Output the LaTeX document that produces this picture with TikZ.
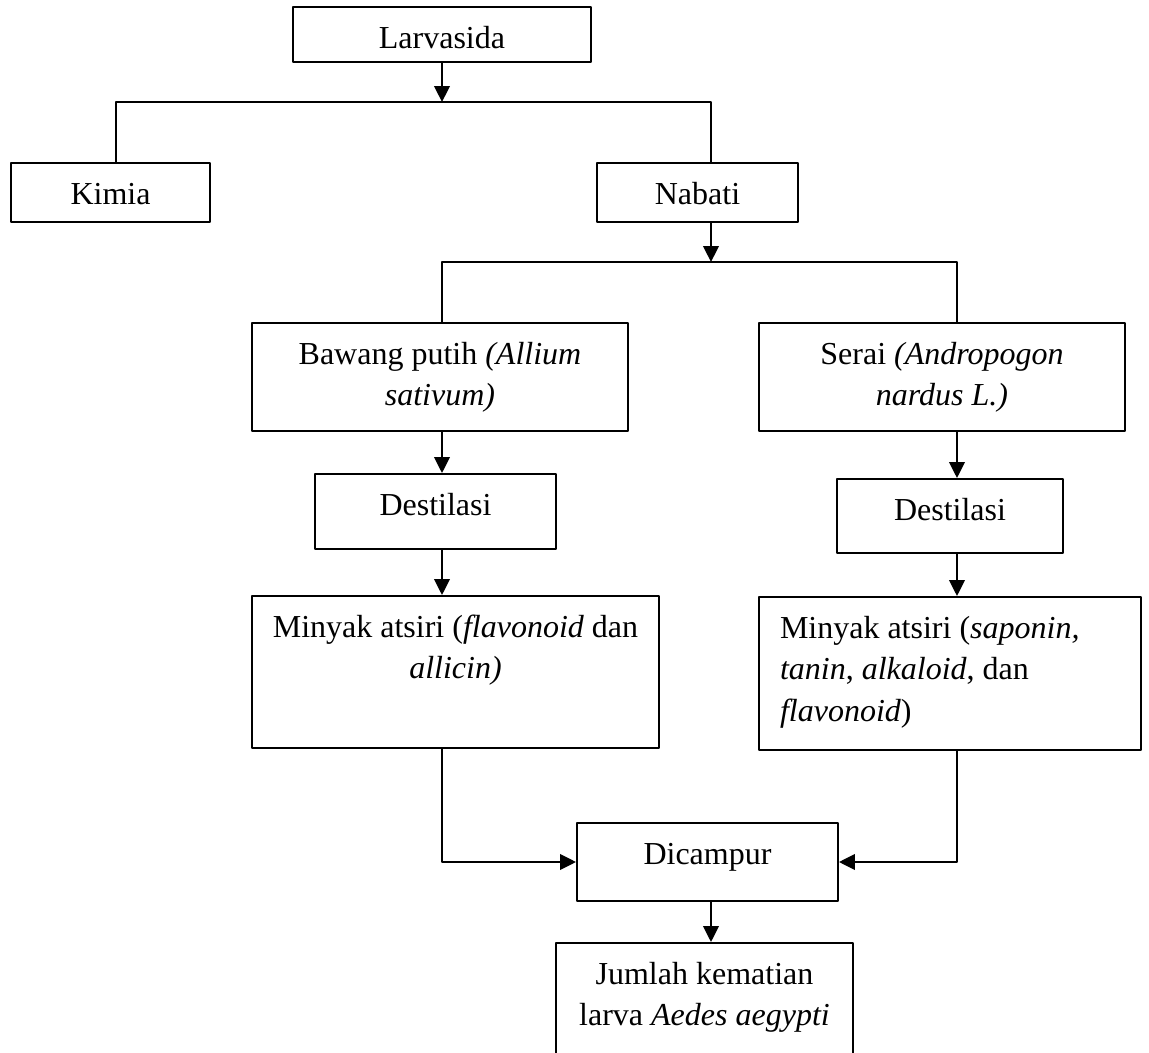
\documentclass[tikz,border=0pt]{standalone}
\usepackage{fontspec}
\setmainfont{Liberation Serif}
\usetikzlibrary{arrows.meta}

\newdimen\pxu \pxu=0.375pt
\newcommand{\boxtext}[4][\centering]{\parbox[c][#3\pxu][t]{#2\pxu}{#1\rule{0pt}{15.4pt}#4}}

\tikzset{
	kotak/.style={draw,line width=0.7pt,inner sep=0pt,font=\fontsize{12pt}{15.56pt}\selectfont},
	garis/.style={line width=0.7pt},
	panah/.style={->,line width=0.95pt}
}

\begin{document}
\begin{tikzpicture}[line cap=round,line join=round,>={Triangle[length=6pt,width=5.8pt]},x=0.375pt,y=-0.375pt]%alur larvasida
	\clip (0,0) rectangle (1149,1053);
	\node[kotak] (lar) at (442,34.5) {\boxtext{298}{55}{Larvasida}};
	\node[kotak] (kim) at (110.5,192.5) {\boxtext{199}{59}{Kimia}};
	\node[kotak] (nab) at (697.5,192.5) {\boxtext{201}{59}{Nabati}};
	\node[kotak] (baw) at (440,377) {\boxtext{376}{108}{Bawang putih \textit{(Allium}\\ \textit{sativum)}}};
	\node[kotak] (ser) at (942,377) {\boxtext{366}{108}{Serai \textit{(Andropogon}\\ \textit{nardus L.)}}};
	\node[kotak] (desL) at (435.5,511.5) {\boxtext{241}{75}{Destilasi}};
	\node[kotak] (desR) at (950,516) {\boxtext{226}{74}{Destilasi}};
	\node[kotak] (minL) at (455.5,672) {\boxtext{407}{152}{Minyak atsiri (\textit{flavonoid} dan\\ \textit{allicin)}}};
	\node[kotak] (minR) at (950,673.5) {\boxtext[\raggedright\leftskip=21\pxu]{382}{153}{Minyak atsiri (\textit{saponin,}\\ \textit{tanin}, \textit{alkaloid}, dan\\ \textit{flavonoid})}};
	\node[kotak] (cam) at (707.5,862) {\boxtext{261}{78}{Dicampur}};
	\node[kotak] (jum) at (704.5,1012) {\boxtext{297}{138}{Jumlah kematian\\ larva \textit{Aedes aegypti}}};
	\coordinate (k1) at (116,102);
	\coordinate (k2) at (442,102);
	\coordinate (k3) at (711,102);
	\coordinate (n1) at (442,262);
	\coordinate (n2) at (711,262);
	\coordinate (n3) at (957,262);
	\draw[panah] (lar.south -| k2) -- (k2);
	\draw[garis] (kim.north -| k1) -- (k1) -- (k3) -- (nab.north -| k3);
	\draw[panah] (nab.south -| k3) -- (n2);
	\draw[garis] (baw.north -| n1) -- (n1) -- (n3) -- (ser.north -| n3);
	\draw[panah] (baw.south -| n1) -- (desL.north -| n1);
	\draw[panah] (ser.south -| n3) -- (desR.north -| n3);
	\draw[panah] (desL.south -| n1) -- (minL.north -| n1);
	\draw[panah] (desR.south -| n3) -- (minR.north -| n3);
	\draw[panah] (minL.south -| n1) |- (cam.west);
	\draw[panah] (minR.south -| n3) |- (cam.east);
	\draw[panah] (cam.south -| n2) -- (jum.north -| n2);
\end{tikzpicture}
\end{document}
